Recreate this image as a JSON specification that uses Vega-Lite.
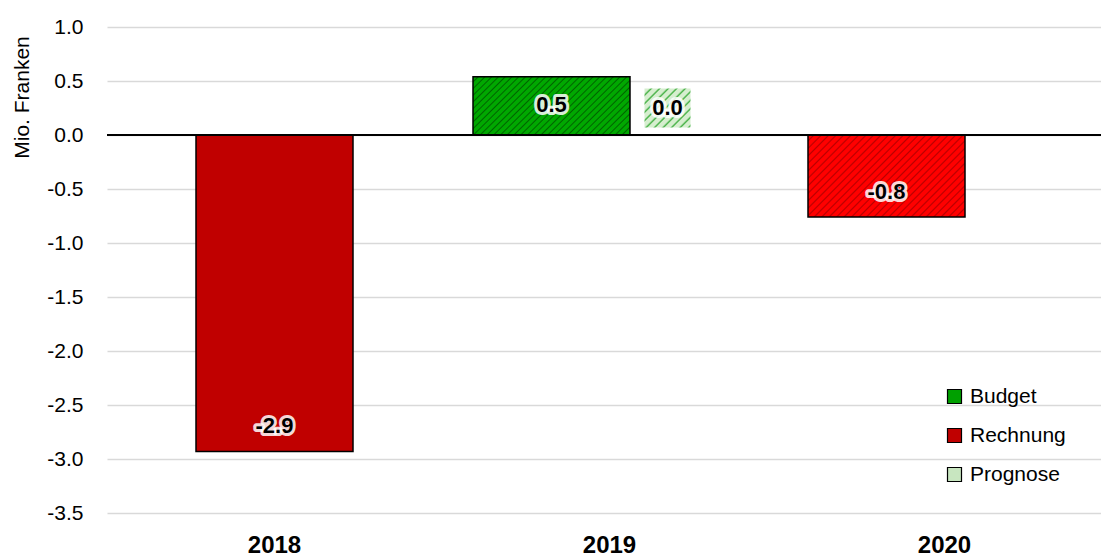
{
  "$schema": "https://vega.github.io/schema/vega-lite/v6.json",
  "width": 994,
  "height": 486,
  "autosize": {"type": "none"},
  "padding": {"left": 107, "top": 27, "right": 0, "bottom": 44},
  "background": "white",
  "config": {
    "view": {"stroke": null},
    "font": "Liberation Sans",
    "locale": {"number": {"decimal": ".", "thousands": ",", "grouping": [3], "currency": ["", ""], "minus": "-"}},
    "axis": {"gridColor": "#d9d9d9", "gridWidth": 1.5, "domain": false, "ticks": false, "labelColor": "black"}
  },
  "data": {
    "values": [
      {"Jahr": "2018", "Serie": "Rechnung", "Wert": -2.93},
      {"Jahr": "2019", "Serie": "Budget", "Wert": 0.54},
      {"Jahr": "2019", "Serie": "Prognose", "Wert": 0.0},
      {"Jahr": "2020", "Serie": "Budget", "Wert": -0.76}
    ]
  },
  "encoding": {
    "x": {
      "field": "Jahr", "type": "nominal",
      "scale": {"range": [0, 1005], "paddingInner": 0, "paddingOuter": 0},
      "axis": {"title": null, "labelAngle": 0, "labelFont": "Liberation Sans", "labelFontWeight": "bold", "labelFontSize": 24, "labelPadding": 20, "grid": false}
    },
    "xOffset": {
      "field": "Serie", "type": "nominal",
      "scale": {"domain": ["Budget", "Rechnung", "Prognose"], "range": [80.5, 254.5], "paddingInner": 0, "paddingOuter": 0}
    },
    "y": {
      "field": "Wert", "type": "quantitative",
      "scale": {"domain": [-3.5, 1.0], "nice": false},
      "axis": {
        "values": [-3.5, -3.0, -2.5, -2.0, -1.5, -1.0, -0.5, 0.0, 0.5, 1.0],
        "format": ".1f", "labelFont": "Liberation Sans", "labelFontSize": 21, "labelPadding": 24,
        "title": "Mio. Franken", "titleFont": "Liberation Sans", "titleFontSize": 21, "titleFontWeight": "normal",
        "titleX": -85, "titleY": 70, "titleAlign": "center", "titleBaseline": "middle", "titleAngle": -90
      }
    }
  },
  "layer": [
    {
      "transform": [{"filter": "datum.Serie == 'Rechnung'"}],
      "mark": {"type": "bar", "width": 157, "stroke": "black", "strokeWidth": 1.5},
      "encoding": {
        "color": {
          "field": "Serie", "type": "nominal",
          "scale": {"domain": ["Budget", "Rechnung", "Prognose"], "range": ["#00a000", "#c00000", "#c8e6c0"]},
          "legend": {
            "title": null, "orient": "none", "legendX": 837, "legendY": 359,
            "symbolType": "square", "symbolSize": 196, "symbolStrokeColor": "black", "symbolStrokeWidth": 1.2,
            "labelFont": "Liberation Sans", "labelFontSize": 21, "labelColor": "black",
            "rowPadding": 17, "labelOffset": 5, "padding": 0
          }
        }
      }
    },
    {
      "transform": [{"filter": "datum.Serie == 'Budget' && datum.Wert >= 0"}],
      "mark": {
        "type": "bar", "width": 157, "stroke": "black", "strokeWidth": 1.5,
        "fill": {"gradient": "linear", "x1": 0, "y1": 0, "x2": 1.206, "y2": 0.453, "stops": [
          {"offset": 0, "color": "#00a800"}, {"offset": 0.018, "color": "#00a800"}, {"offset": 0.025, "color": "#006400"},
          {"offset": 0.03125, "color": "#00a800"}, {"offset": 0.04925, "color": "#00a800"}, {"offset": 0.05625, "color": "#006400"},
          {"offset": 0.0625, "color": "#00a800"}, {"offset": 0.0805, "color": "#00a800"}, {"offset": 0.0875, "color": "#006400"},
          {"offset": 0.09375, "color": "#00a800"}, {"offset": 0.11175, "color": "#00a800"}, {"offset": 0.11875, "color": "#006400"},
          {"offset": 0.125, "color": "#00a800"}, {"offset": 0.143, "color": "#00a800"}, {"offset": 0.15, "color": "#006400"},
          {"offset": 0.15625, "color": "#00a800"}, {"offset": 0.17425, "color": "#00a800"}, {"offset": 0.18125, "color": "#006400"},
          {"offset": 0.1875, "color": "#00a800"}, {"offset": 0.2055, "color": "#00a800"}, {"offset": 0.2125, "color": "#006400"},
          {"offset": 0.21875, "color": "#00a800"}, {"offset": 0.23675, "color": "#00a800"}, {"offset": 0.24375, "color": "#006400"},
          {"offset": 0.25, "color": "#00a800"}, {"offset": 0.268, "color": "#00a800"}, {"offset": 0.275, "color": "#006400"},
          {"offset": 0.28125, "color": "#00a800"}, {"offset": 0.29925, "color": "#00a800"}, {"offset": 0.30625, "color": "#006400"},
          {"offset": 0.3125, "color": "#00a800"}, {"offset": 0.3305, "color": "#00a800"}, {"offset": 0.3375, "color": "#006400"},
          {"offset": 0.34375, "color": "#00a800"}, {"offset": 0.36175, "color": "#00a800"}, {"offset": 0.36875, "color": "#006400"},
          {"offset": 0.375, "color": "#00a800"}, {"offset": 0.393, "color": "#00a800"}, {"offset": 0.4, "color": "#006400"},
          {"offset": 0.40625, "color": "#00a800"}, {"offset": 0.42425, "color": "#00a800"}, {"offset": 0.43125, "color": "#006400"},
          {"offset": 0.4375, "color": "#00a800"}, {"offset": 0.4555, "color": "#00a800"}, {"offset": 0.4625, "color": "#006400"},
          {"offset": 0.46875, "color": "#00a800"}, {"offset": 0.48675, "color": "#00a800"}, {"offset": 0.49375, "color": "#006400"},
          {"offset": 0.5, "color": "#00a800"}, {"offset": 0.518, "color": "#00a800"}, {"offset": 0.525, "color": "#006400"},
          {"offset": 0.53125, "color": "#00a800"}, {"offset": 0.54925, "color": "#00a800"}, {"offset": 0.55625, "color": "#006400"},
          {"offset": 0.5625, "color": "#00a800"}, {"offset": 0.5805, "color": "#00a800"}, {"offset": 0.5875, "color": "#006400"},
          {"offset": 0.59375, "color": "#00a800"}, {"offset": 0.61175, "color": "#00a800"}, {"offset": 0.61875, "color": "#006400"},
          {"offset": 0.625, "color": "#00a800"}, {"offset": 0.643, "color": "#00a800"}, {"offset": 0.65, "color": "#006400"},
          {"offset": 0.65625, "color": "#00a800"}, {"offset": 0.67425, "color": "#00a800"}, {"offset": 0.68125, "color": "#006400"},
          {"offset": 0.6875, "color": "#00a800"}, {"offset": 0.7055, "color": "#00a800"}, {"offset": 0.7125, "color": "#006400"},
          {"offset": 0.71875, "color": "#00a800"}, {"offset": 0.73675, "color": "#00a800"}, {"offset": 0.74375, "color": "#006400"},
          {"offset": 0.75, "color": "#00a800"}, {"offset": 0.768, "color": "#00a800"}, {"offset": 0.775, "color": "#006400"},
          {"offset": 0.78125, "color": "#00a800"}, {"offset": 0.79925, "color": "#00a800"}, {"offset": 0.80625, "color": "#006400"},
          {"offset": 0.8125, "color": "#00a800"}, {"offset": 0.8305, "color": "#00a800"}, {"offset": 0.8375, "color": "#006400"},
          {"offset": 0.84375, "color": "#00a800"}, {"offset": 0.86175, "color": "#00a800"}, {"offset": 0.86875, "color": "#006400"},
          {"offset": 0.875, "color": "#00a800"}, {"offset": 0.893, "color": "#00a800"}, {"offset": 0.9, "color": "#006400"},
          {"offset": 0.90625, "color": "#00a800"}, {"offset": 0.92425, "color": "#00a800"}, {"offset": 0.93125, "color": "#006400"},
          {"offset": 0.9375, "color": "#00a800"}, {"offset": 0.9555, "color": "#00a800"}, {"offset": 0.9625, "color": "#006400"},
          {"offset": 0.96875, "color": "#00a800"}, {"offset": 0.98675, "color": "#00a800"}, {"offset": 0.99375, "color": "#006400"},
          {"offset": 1, "color": "#00a800"}
        ]}
      }
    },
    {
      "transform": [{"filter": "datum.Serie == 'Budget' && datum.Wert < 0"}],
      "mark": {
        "type": "bar", "width": 157, "stroke": "black", "strokeWidth": 1.5,
        "fill": {"gradient": "linear", "x1": 0, "y1": 0, "x2": 1.196, "y2": 0.624, "stops": [
          {"offset": 0, "color": "#ff0000"}, {"offset": 0.018, "color": "#ff0000"}, {"offset": 0.025, "color": "#b80000"},
          {"offset": 0.03125, "color": "#ff0000"}, {"offset": 0.04925, "color": "#ff0000"}, {"offset": 0.05625, "color": "#b80000"},
          {"offset": 0.0625, "color": "#ff0000"}, {"offset": 0.0805, "color": "#ff0000"}, {"offset": 0.0875, "color": "#b80000"},
          {"offset": 0.09375, "color": "#ff0000"}, {"offset": 0.11175, "color": "#ff0000"}, {"offset": 0.11875, "color": "#b80000"},
          {"offset": 0.125, "color": "#ff0000"}, {"offset": 0.143, "color": "#ff0000"}, {"offset": 0.15, "color": "#b80000"},
          {"offset": 0.15625, "color": "#ff0000"}, {"offset": 0.17425, "color": "#ff0000"}, {"offset": 0.18125, "color": "#b80000"},
          {"offset": 0.1875, "color": "#ff0000"}, {"offset": 0.2055, "color": "#ff0000"}, {"offset": 0.2125, "color": "#b80000"},
          {"offset": 0.21875, "color": "#ff0000"}, {"offset": 0.23675, "color": "#ff0000"}, {"offset": 0.24375, "color": "#b80000"},
          {"offset": 0.25, "color": "#ff0000"}, {"offset": 0.268, "color": "#ff0000"}, {"offset": 0.275, "color": "#b80000"},
          {"offset": 0.28125, "color": "#ff0000"}, {"offset": 0.29925, "color": "#ff0000"}, {"offset": 0.30625, "color": "#b80000"},
          {"offset": 0.3125, "color": "#ff0000"}, {"offset": 0.3305, "color": "#ff0000"}, {"offset": 0.3375, "color": "#b80000"},
          {"offset": 0.34375, "color": "#ff0000"}, {"offset": 0.36175, "color": "#ff0000"}, {"offset": 0.36875, "color": "#b80000"},
          {"offset": 0.375, "color": "#ff0000"}, {"offset": 0.393, "color": "#ff0000"}, {"offset": 0.4, "color": "#b80000"},
          {"offset": 0.40625, "color": "#ff0000"}, {"offset": 0.42425, "color": "#ff0000"}, {"offset": 0.43125, "color": "#b80000"},
          {"offset": 0.4375, "color": "#ff0000"}, {"offset": 0.4555, "color": "#ff0000"}, {"offset": 0.4625, "color": "#b80000"},
          {"offset": 0.46875, "color": "#ff0000"}, {"offset": 0.48675, "color": "#ff0000"}, {"offset": 0.49375, "color": "#b80000"},
          {"offset": 0.5, "color": "#ff0000"}, {"offset": 0.518, "color": "#ff0000"}, {"offset": 0.525, "color": "#b80000"},
          {"offset": 0.53125, "color": "#ff0000"}, {"offset": 0.54925, "color": "#ff0000"}, {"offset": 0.55625, "color": "#b80000"},
          {"offset": 0.5625, "color": "#ff0000"}, {"offset": 0.5805, "color": "#ff0000"}, {"offset": 0.5875, "color": "#b80000"},
          {"offset": 0.59375, "color": "#ff0000"}, {"offset": 0.61175, "color": "#ff0000"}, {"offset": 0.61875, "color": "#b80000"},
          {"offset": 0.625, "color": "#ff0000"}, {"offset": 0.643, "color": "#ff0000"}, {"offset": 0.65, "color": "#b80000"},
          {"offset": 0.65625, "color": "#ff0000"}, {"offset": 0.67425, "color": "#ff0000"}, {"offset": 0.68125, "color": "#b80000"},
          {"offset": 0.6875, "color": "#ff0000"}, {"offset": 0.7055, "color": "#ff0000"}, {"offset": 0.7125, "color": "#b80000"},
          {"offset": 0.71875, "color": "#ff0000"}, {"offset": 0.73675, "color": "#ff0000"}, {"offset": 0.74375, "color": "#b80000"},
          {"offset": 0.75, "color": "#ff0000"}, {"offset": 0.768, "color": "#ff0000"}, {"offset": 0.775, "color": "#b80000"},
          {"offset": 0.78125, "color": "#ff0000"}, {"offset": 0.79925, "color": "#ff0000"}, {"offset": 0.80625, "color": "#b80000"},
          {"offset": 0.8125, "color": "#ff0000"}, {"offset": 0.8305, "color": "#ff0000"}, {"offset": 0.8375, "color": "#b80000"},
          {"offset": 0.84375, "color": "#ff0000"}, {"offset": 0.86175, "color": "#ff0000"}, {"offset": 0.86875, "color": "#b80000"},
          {"offset": 0.875, "color": "#ff0000"}, {"offset": 0.893, "color": "#ff0000"}, {"offset": 0.9, "color": "#b80000"},
          {"offset": 0.90625, "color": "#ff0000"}, {"offset": 0.92425, "color": "#ff0000"}, {"offset": 0.93125, "color": "#b80000"},
          {"offset": 0.9375, "color": "#ff0000"}, {"offset": 0.9555, "color": "#ff0000"}, {"offset": 0.9625, "color": "#b80000"},
          {"offset": 0.96875, "color": "#ff0000"}, {"offset": 0.98675, "color": "#ff0000"}, {"offset": 0.99375, "color": "#b80000"},
          {"offset": 1, "color": "#ff0000"}
        ]}
      }
    },
    {
      "mark": {"type": "rule", "color": "black", "strokeWidth": 2},
      "encoding": {"x": null, "xOffset": null, "y": {"datum": 0}}
    },
    {
      "transform": [{"filter": "datum.Serie == 'Prognose'"}],
      "mark": {
        "type": "point", "filled": true, "opacity": 1, "strokeWidth": 0,
        "shape": "M-1.18,-1H1.18V1H-1.18Z", "size": 1521, "yOffset": -27,
        "fill": {"gradient": "linear", "x1": 0, "y1": 0, "x2": 1.075, "y2": 0.912, "stops": [
          {"offset": 0, "color": "#d6eecf"}, {"offset": 0.055, "color": "#d6eecf"}, {"offset": 0.08, "color": "#3fae3f"},
          {"offset": 0.1, "color": "#d6eecf"}, {"offset": 0.155, "color": "#d6eecf"}, {"offset": 0.18, "color": "#3fae3f"},
          {"offset": 0.2, "color": "#d6eecf"}, {"offset": 0.255, "color": "#d6eecf"}, {"offset": 0.28, "color": "#3fae3f"},
          {"offset": 0.3, "color": "#d6eecf"}, {"offset": 0.355, "color": "#d6eecf"}, {"offset": 0.38, "color": "#3fae3f"},
          {"offset": 0.4, "color": "#d6eecf"}, {"offset": 0.455, "color": "#d6eecf"}, {"offset": 0.48, "color": "#3fae3f"},
          {"offset": 0.5, "color": "#d6eecf"}, {"offset": 0.555, "color": "#d6eecf"}, {"offset": 0.58, "color": "#3fae3f"},
          {"offset": 0.6, "color": "#d6eecf"}, {"offset": 0.655, "color": "#d6eecf"}, {"offset": 0.68, "color": "#3fae3f"},
          {"offset": 0.7, "color": "#d6eecf"}, {"offset": 0.755, "color": "#d6eecf"}, {"offset": 0.78, "color": "#3fae3f"},
          {"offset": 0.8, "color": "#d6eecf"}, {"offset": 0.855, "color": "#d6eecf"}, {"offset": 0.88, "color": "#3fae3f"},
          {"offset": 0.9, "color": "#d6eecf"}, {"offset": 0.955, "color": "#d6eecf"}, {"offset": 0.98, "color": "#3fae3f"},
          {"offset": 1, "color": "#d6eecf"}
        ]}
      }
    },
    {
      "mark": {
        "type": "text", "font": "Liberation Sans", "fontWeight": "bold", "fontSize": 22,
        "baseline": "middle", "align": "center",
        "stroke": "white", "strokeWidth": 6, "strokeOpacity": 0.85, "strokeJoin": "round", "fill": "white",
        "yOffset": {"expr": "datum.Serie == 'Prognose' ? -27 : (datum.Wert < 0 ? -25 : 28)"}
      },
      "encoding": {"text": {"field": "Wert", "type": "quantitative", "format": ".1f"}}
    },
    {
      "mark": {
        "type": "text", "font": "Liberation Sans", "fontWeight": "bold", "fontSize": 22,
        "baseline": "middle", "align": "center", "color": "black",
        "yOffset": {"expr": "datum.Serie == 'Prognose' ? -27 : (datum.Wert < 0 ? -25 : 28)"}
      },
      "encoding": {"text": {"field": "Wert", "type": "quantitative", "format": ".1f"}}
    }
  ]
}
